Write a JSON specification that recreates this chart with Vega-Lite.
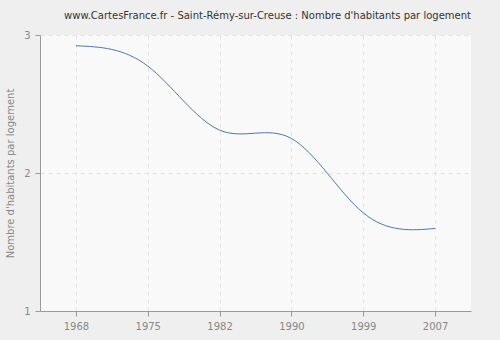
{
  "$schema": "https://vega.github.io/schema/vega-lite/v6.json",
  "autosize": "none",
  "width": 431,
  "height": 276,
  "padding": {"left": 40, "top": 35, "right": 29, "bottom": 29},
  "background": "#efefef",
  "title": {
    "text": "www.CartesFrance.fr - Saint-Rémy-sur-Creuse : Nombre d'habitants par logement",
    "font": "DejaVu Sans",
    "fontSize": 10,
    "fontWeight": "normal",
    "color": "#333333",
    "anchor": "middle",
    "dx": 12,
    "offset": 9
  },
  "config": {
    "view": {"fill": "#f9f9f9", "stroke": null},
    "axis": {
      "labelFont": "DejaVu Sans",
      "labelFontSize": 10,
      "labelColor": "#888888",
      "titleFont": "DejaVu Sans",
      "titleFontSize": 10,
      "titleFontWeight": "normal",
      "titleColor": "#888888",
      "domainColor": "#999999",
      "tickColor": "#999999",
      "tickSize": 5,
      "gridColor": "#e2e2e2",
      "gridDash": [4, 4]
    }
  },
  "data": {
    "values": [
      {"annee": "1968", "valeur": 2.922},
      {"annee": "1975", "valeur": 2.775},
      {"annee": "1982", "valeur": 2.311},
      {"annee": "1990", "valeur": 2.25},
      {"annee": "1999", "valeur": 1.711},
      {"annee": "2007", "valeur": 1.598}
    ]
  },
  "mark": {"type": "line", "interpolate": "natural", "color": "#4a78b0", "strokeWidth": 1},
  "encoding": {
    "x": {
      "field": "annee",
      "type": "ordinal",
      "scale": {"type": "point", "padding": 0.5},
      "axis": {"title": null, "labelAngle": 0, "grid": true, "labelPadding": 5}
    },
    "y": {
      "field": "valeur",
      "type": "quantitative",
      "scale": {"domain": [1, 3]},
      "axis": {"title": "Nombre d'habitants par logement", "values": [1, 2, 3], "format": ".0f", "grid": true, "labelPadding": 5, "titlePadding": 8}
    }
  }
}
